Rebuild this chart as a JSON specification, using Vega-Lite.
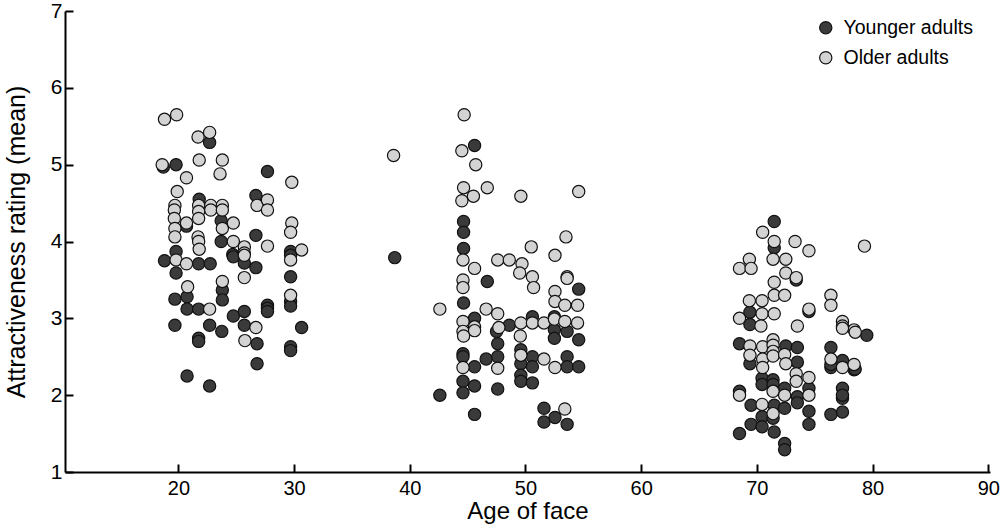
{
  "$schema": "https://vega.github.io/schema/vega-lite/v6.json",
  "width": 925,
  "height": 461,
  "autosize": {"type": "none"},
  "padding": {"left": 65, "top": 11, "right": 10, "bottom": 54},
  "background": "white",
  "config": {"view": {"stroke": null}},
  "datasets": {
    "pts": [
      {"a":22.7,"r":5.29,"g":"Y"},{"a":19.8,"r":5.0,"g":"Y"},{"a":18.7,"r":4.97,"g":"Y"},{"a":27.7,"r":4.91,"g":"Y"},{"a":21.8,"r":4.55,"g":"Y"},{"a":20.7,"r":4.2,"g":"Y"},{"a":23.7,"r":4.27,"g":"Y"},{"a":23.7,"r":4.0,"g":"Y"},{"a":26.7,"r":4.08,"g":"Y"},{"a":26.7,"r":4.6,"g":"Y"},{"a":29.7,"r":3.87,"g":"Y"},{"a":19.8,"r":3.87,"g":"Y"},{"a":24.7,"r":3.83,"g":"Y"},{"a":18.8,"r":3.75,"g":"Y"},{"a":19.8,"r":3.59,"g":"Y"},{"a":21.75,"r":3.71,"g":"Y"},{"a":22.75,"r":3.71,"g":"Y"},{"a":24.75,"r":3.8,"g":"Y"},{"a":25.7,"r":3.72,"g":"Y"},{"a":26.7,"r":3.66,"g":"Y"},{"a":29.7,"r":3.82,"g":"Y"},{"a":29.7,"r":3.54,"g":"Y"},{"a":20.75,"r":3.28,"g":"Y"},{"a":19.7,"r":3.25,"g":"Y"},{"a":20.75,"r":3.12,"g":"Y"},{"a":21.75,"r":3.12,"g":"Y"},{"a":23.8,"r":3.37,"g":"Y"},{"a":23.8,"r":3.24,"g":"Y"},{"a":24.75,"r":3.03,"g":"Y"},{"a":25.7,"r":3.09,"g":"Y"},{"a":25.7,"r":2.91,"g":"Y"},{"a":27.7,"r":3.17,"g":"Y"},{"a":27.7,"r":3.13,"g":"Y"},{"a":27.7,"r":3.09,"g":"Y"},{"a":29.7,"r":3.22,"g":"Y"},{"a":29.7,"r":3.16,"g":"Y"},{"a":30.65,"r":2.88,"g":"Y"},{"a":19.7,"r":2.91,"g":"Y"},{"a":22.7,"r":2.91,"g":"Y"},{"a":23.75,"r":2.83,"g":"Y"},{"a":21.75,"r":2.74,"g":"Y"},{"a":21.75,"r":2.7,"g":"Y"},{"a":26.8,"r":2.67,"g":"Y"},{"a":29.7,"r":2.63,"g":"Y"},{"a":29.7,"r":2.58,"g":"Y"},{"a":26.8,"r":2.41,"g":"Y"},{"a":20.75,"r":2.25,"g":"Y"},{"a":22.7,"r":2.12,"g":"Y"},
      {"a":45.6,"r":5.25,"g":"Y"},{"a":44.65,"r":4.26,"g":"Y"},{"a":44.65,"r":4.12,"g":"Y"},{"a":44.65,"r":3.91,"g":"Y"},{"a":38.7,"r":3.79,"g":"Y"},{"a":46.7,"r":3.48,"g":"Y"},{"a":54.6,"r":3.38,"g":"Y"},{"a":44.65,"r":3.2,"g":"Y"},{"a":45.6,"r":3.0,"g":"Y"},{"a":47.5,"r":2.83,"g":"Y"},{"a":48.6,"r":2.91,"g":"Y"},{"a":50.6,"r":3.02,"g":"Y"},{"a":52.5,"r":3.02,"g":"Y"},{"a":52.5,"r":2.85,"g":"Y"},{"a":52.5,"r":2.74,"g":"Y"},{"a":53.6,"r":2.83,"g":"Y"},{"a":54.6,"r":2.72,"g":"Y"},{"a":47.6,"r":2.67,"g":"Y"},{"a":44.6,"r":2.54,"g":"Y"},{"a":44.6,"r":2.5,"g":"Y"},{"a":46.6,"r":2.47,"g":"Y"},{"a":47.6,"r":2.5,"g":"Y"},{"a":45.6,"r":2.37,"g":"Y"},{"a":49.6,"r":2.59,"g":"Y"},{"a":50.6,"r":2.5,"g":"Y"},{"a":49.6,"r":2.41,"g":"Y"},{"a":50.6,"r":2.37,"g":"Y"},{"a":53.6,"r":2.5,"g":"Y"},{"a":53.6,"r":2.37,"g":"Y"},{"a":54.6,"r":2.37,"g":"Y"},{"a":49.6,"r":2.26,"g":"Y"},{"a":49.6,"r":2.18,"g":"Y"},{"a":50.6,"r":2.16,"g":"Y"},{"a":44.6,"r":2.18,"g":"Y"},{"a":45.6,"r":2.12,"g":"Y"},{"a":44.6,"r":2.03,"g":"Y"},{"a":47.6,"r":2.08,"g":"Y"},{"a":42.6,"r":2.0,"g":"Y"},{"a":45.6,"r":1.75,"g":"Y"},{"a":51.6,"r":1.83,"g":"Y"},{"a":52.55,"r":1.71,"g":"Y"},{"a":51.6,"r":1.65,"g":"Y"},{"a":53.6,"r":1.62,"g":"Y"},
      {"a":71.5,"r":4.26,"g":"Y"},{"a":71.5,"r":3.92,"g":"Y"},{"a":73.4,"r":3.5,"g":"Y"},{"a":69.4,"r":3.08,"g":"Y"},{"a":69.4,"r":2.92,"g":"Y"},{"a":74.5,"r":3.09,"g":"Y"},{"a":68.5,"r":2.67,"g":"Y"},{"a":69.4,"r":2.41,"g":"Y"},{"a":72.5,"r":2.64,"g":"Y"},{"a":73.5,"r":2.62,"g":"Y"},{"a":73.5,"r":2.43,"g":"Y"},{"a":74.5,"r":2.09,"g":"Y"},{"a":74.5,"r":1.79,"g":"Y"},{"a":74.5,"r":1.62,"g":"Y"},{"a":76.4,"r":2.62,"g":"Y"},{"a":76.4,"r":2.36,"g":"Y"},{"a":77.4,"r":2.45,"g":"Y"},{"a":78.4,"r":2.33,"g":"Y"},{"a":77.4,"r":2.09,"g":"Y"},{"a":77.4,"r":1.96,"g":"Y"},{"a":77.4,"r":1.78,"g":"Y"},{"a":76.4,"r":1.75,"g":"Y"},{"a":70.45,"r":2.22,"g":"Y"},{"a":70.45,"r":2.14,"g":"Y"},{"a":71.4,"r":2.2,"g":"Y"},{"a":71.4,"r":2.14,"g":"Y"},{"a":72.4,"r":2.09,"g":"Y"},{"a":68.5,"r":2.05,"g":"Y"},{"a":73.5,"r":1.98,"g":"Y"},{"a":73.5,"r":1.9,"g":"Y"},{"a":69.5,"r":1.87,"g":"Y"},{"a":71.5,"r":1.87,"g":"Y"},{"a":72.4,"r":1.83,"g":"Y"},{"a":70.45,"r":1.72,"g":"Y"},{"a":71.4,"r":1.7,"g":"Y"},{"a":69.5,"r":1.62,"g":"Y"},{"a":70.45,"r":1.59,"g":"Y"},{"a":71.5,"r":1.52,"g":"Y"},{"a":68.5,"r":1.5,"g":"Y"},{"a":72.4,"r":1.37,"g":"Y"},{"a":72.4,"r":1.29,"g":"Y"},{"a":79.5,"r":2.78,"g":"Y"},{"a":76.4,"r":2.4,"g":"Y"},{"a":78.5,"r":2.34,"g":"Y"},{"a":77.4,"r":2.0,"g":"Y"},
      {"a":18.8,"r":5.59,"g":"O"},{"a":19.85,"r":5.65,"g":"O"},{"a":21.7,"r":5.36,"g":"O"},{"a":22.7,"r":5.42,"g":"O"},{"a":18.6,"r":5.0,"g":"O"},{"a":21.8,"r":5.06,"g":"O"},{"a":23.8,"r":5.06,"g":"O"},{"a":23.6,"r":4.88,"g":"O"},{"a":20.7,"r":4.83,"g":"O"},{"a":29.8,"r":4.77,"g":"O"},{"a":19.9,"r":4.65,"g":"O"},{"a":19.7,"r":4.47,"g":"O"},{"a":19.65,"r":4.41,"g":"O"},{"a":19.65,"r":4.3,"g":"O"},{"a":19.7,"r":4.17,"g":"O"},{"a":19.7,"r":4.06,"g":"O"},{"a":21.75,"r":4.47,"g":"O"},{"a":21.75,"r":4.39,"g":"O"},{"a":21.75,"r":4.3,"g":"O"},{"a":21.7,"r":4.06,"g":"O"},{"a":21.75,"r":4.0,"g":"O"},{"a":21.8,"r":3.9,"g":"O"},{"a":22.8,"r":4.47,"g":"O"},{"a":22.8,"r":4.41,"g":"O"},{"a":23.8,"r":4.47,"g":"O"},{"a":23.8,"r":4.41,"g":"O"},{"a":20.7,"r":4.24,"g":"O"},{"a":23.8,"r":4.17,"g":"O"},{"a":24.75,"r":4.24,"g":"O"},{"a":24.75,"r":4.0,"g":"O"},{"a":25.7,"r":3.93,"g":"O"},{"a":27.7,"r":3.94,"g":"O"},{"a":26.8,"r":4.47,"g":"O"},{"a":27.7,"r":4.54,"g":"O"},{"a":27.7,"r":4.41,"g":"O"},{"a":29.8,"r":4.24,"g":"O"},{"a":29.7,"r":4.12,"g":"O"},{"a":30.65,"r":3.89,"g":"O"},{"a":25.7,"r":3.85,"g":"O"},{"a":19.8,"r":3.76,"g":"O"},{"a":20.7,"r":3.71,"g":"O"},{"a":25.7,"r":3.82,"g":"O"},{"a":29.7,"r":3.76,"g":"O"},{"a":25.7,"r":3.53,"g":"O"},{"a":20.8,"r":3.41,"g":"O"},{"a":22.7,"r":3.12,"g":"O"},{"a":23.8,"r":3.48,"g":"O"},{"a":26.7,"r":2.88,"g":"O"},{"a":29.7,"r":3.3,"g":"O"},{"a":25.75,"r":2.71,"g":"O"},
      {"a":44.7,"r":5.65,"g":"O"},{"a":44.5,"r":5.18,"g":"O"},{"a":45.7,"r":5.0,"g":"O"},{"a":38.6,"r":5.12,"g":"O"},{"a":44.65,"r":4.7,"g":"O"},{"a":45.5,"r":4.59,"g":"O"},{"a":44.5,"r":4.53,"g":"O"},{"a":46.7,"r":4.7,"g":"O"},{"a":49.6,"r":4.59,"g":"O"},{"a":54.6,"r":4.65,"g":"O"},{"a":44.6,"r":3.76,"g":"O"},{"a":45.6,"r":3.65,"g":"O"},{"a":47.6,"r":3.76,"g":"O"},{"a":48.6,"r":3.76,"g":"O"},{"a":49.7,"r":3.71,"g":"O"},{"a":49.5,"r":3.59,"g":"O"},{"a":50.5,"r":3.93,"g":"O"},{"a":52.55,"r":3.82,"g":"O"},{"a":53.5,"r":4.06,"g":"O"},{"a":50.6,"r":3.54,"g":"O"},{"a":53.6,"r":3.54,"g":"O"},{"a":53.6,"r":3.52,"g":"O"},{"a":44.6,"r":3.5,"g":"O"},{"a":44.6,"r":3.4,"g":"O"},{"a":50.7,"r":3.4,"g":"O"},{"a":52.55,"r":3.35,"g":"O"},{"a":52.55,"r":3.22,"g":"O"},{"a":53.4,"r":3.17,"g":"O"},{"a":54.5,"r":3.17,"g":"O"},{"a":42.6,"r":3.12,"g":"O"},{"a":46.6,"r":3.12,"g":"O"},{"a":47.6,"r":3.06,"g":"O"},{"a":44.6,"r":2.96,"g":"O"},{"a":45.6,"r":2.89,"g":"O"},{"a":44.6,"r":2.83,"g":"O"},{"a":45.6,"r":2.84,"g":"O"},{"a":44.65,"r":2.77,"g":"O"},{"a":47.7,"r":2.88,"g":"O"},{"a":49.6,"r":2.94,"g":"O"},{"a":49.55,"r":2.77,"g":"O"},{"a":50.6,"r":2.94,"g":"O"},{"a":51.6,"r":2.94,"g":"O"},{"a":52.5,"r":2.99,"g":"O"},{"a":53.4,"r":2.96,"g":"O"},{"a":54.5,"r":2.94,"g":"O"},{"a":44.6,"r":2.36,"g":"O"},{"a":47.6,"r":2.35,"g":"O"},{"a":49.6,"r":2.52,"g":"O"},{"a":51.6,"r":2.47,"g":"O"},{"a":52.55,"r":2.36,"g":"O"},{"a":53.4,"r":1.82,"g":"O"},
      {"a":70.5,"r":4.12,"g":"O"},{"a":71.5,"r":4.0,"g":"O"},{"a":73.3,"r":4.0,"g":"O"},{"a":74.5,"r":3.88,"g":"O"},{"a":69.35,"r":3.77,"g":"O"},{"a":68.5,"r":3.65,"g":"O"},{"a":69.5,"r":3.65,"g":"O"},{"a":71.4,"r":3.77,"g":"O"},{"a":72.5,"r":3.77,"g":"O"},{"a":72.5,"r":3.59,"g":"O"},{"a":73.4,"r":3.53,"g":"O"},{"a":71.5,"r":3.47,"g":"O"},{"a":71.5,"r":3.3,"g":"O"},{"a":72.4,"r":3.3,"g":"O"},{"a":69.35,"r":3.23,"g":"O"},{"a":70.45,"r":3.23,"g":"O"},{"a":68.5,"r":3.0,"g":"O"},{"a":70.45,"r":3.06,"g":"O"},{"a":71.5,"r":3.06,"g":"O"},{"a":70.35,"r":2.9,"g":"O"},{"a":76.4,"r":3.3,"g":"O"},{"a":76.4,"r":3.17,"g":"O"},{"a":74.5,"r":3.12,"g":"O"},{"a":73.5,"r":2.9,"g":"O"},{"a":77.4,"r":2.96,"g":"O"},{"a":77.4,"r":2.9,"g":"O"},{"a":78.4,"r":2.85,"g":"O"},{"a":69.4,"r":2.64,"g":"O"},{"a":69.4,"r":2.52,"g":"O"},{"a":70.5,"r":2.63,"g":"O"},{"a":70.5,"r":2.47,"g":"O"},{"a":70.5,"r":2.36,"g":"O"},{"a":71.4,"r":2.72,"g":"O"},{"a":71.4,"r":2.65,"g":"O"},{"a":71.4,"r":2.57,"g":"O"},{"a":71.4,"r":2.51,"g":"O"},{"a":72.4,"r":2.53,"g":"O"},{"a":72.5,"r":2.41,"g":"O"},{"a":73.4,"r":2.28,"g":"O"},{"a":73.4,"r":2.18,"g":"O"},{"a":74.5,"r":2.23,"g":"O"},{"a":74.5,"r":2.0,"g":"O"},{"a":76.4,"r":2.47,"g":"O"},{"a":77.4,"r":2.36,"g":"O"},{"a":78.4,"r":2.4,"g":"O"},{"a":71.4,"r":2.05,"g":"O"},{"a":72.4,"r":2.0,"g":"O"},{"a":68.5,"r":2.0,"g":"O"},{"a":70.45,"r":1.88,"g":"O"},{"a":71.4,"r":1.76,"g":"O"},{"a":79.3,"r":3.94,"g":"O"},{"a":77.4,"r":2.87,"g":"O"},{"a":78.5,"r":2.82,"g":"O"}
    ]
  },
  "data": {"name": "pts"},
  "mark": {"type": "point", "shape": "circle", "filled": true, "size": 150, "opacity": 1, "stroke": "#111111", "strokeWidth": 1.2},
  "encoding": {
    "x": {
      "field": "a", "type": "quantitative",
      "scale": {"domain": [10.2, 90.15], "nice": false, "zero": false},
      "axis": {
        "title": "Age of face", "values": [20, 30, 40, 50, 60, 70, 80, 90],
        "grid": false, "domainColor": "black", "domainWidth": 2,
        "tickColor": "black", "tickWidth": 2, "tickSize": -8,
        "labelFont": "Liberation Sans", "labelFontSize": 20, "labelColor": "black", "labelPadding": 14,
        "titleFont": "Liberation Sans", "titleFontSize": 24, "titleFontWeight": "normal", "titleColor": "black", "titlePadding": 1
      }
    },
    "y": {
      "field": "r", "type": "quantitative",
      "scale": {"domain": [1, 7], "nice": false, "zero": false},
      "axis": {
        "title": "Attractiveness rating (mean)", "values": [1, 2, 3, 4, 5, 6, 7],
        "grid": false, "domainColor": "black", "domainWidth": 2,
        "tickColor": "black", "tickWidth": 2, "tickSize": -8,
        "labelFont": "Liberation Sans", "labelFontSize": 21, "labelColor": "black", "labelPadding": 11,
        "titleFont": "Liberation Sans", "titleFontSize": 25, "titleFontWeight": "normal", "titleColor": "black", "titlePadding": 21
      }
    },
    "fill": {
      "field": "g", "type": "nominal",
      "scale": {"domain": ["Y", "O"], "range": ["#3a3a3a", "#d3d3d3"]},
      "legend": {
        "title": null, "orient": "none", "legendX": 751, "legendY": 7,
        "labelExpr": "datum.value == 'Y' ? 'Younger adults' : 'Older adults'",
        "symbolType": "circle", "symbolSize": 150, "symbolStrokeColor": "#111111", "symbolStrokeWidth": 1.2,
        "labelFont": "Liberation Sans", "labelFontSize": 19.5, "labelColor": "black", "labelOffset": 8,
        "rowPadding": 9, "padding": 0
      }
    }
  }
}
